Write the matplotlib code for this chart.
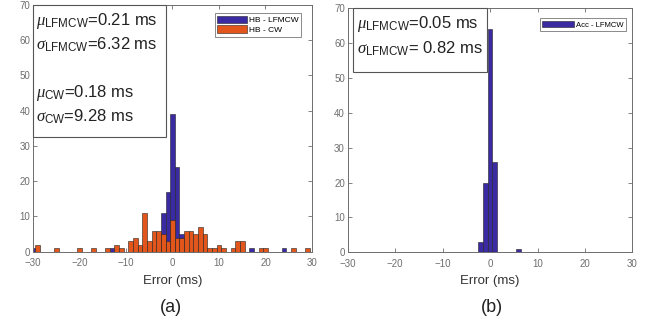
"""
Histogram of timing error: HB vs accelerometer reference, LFMCW / CW.
"""

import numpy as np
import matplotlib
matplotlib.use("Agg")
import matplotlib.pyplot as plt
from matplotlib.patches import Rectangle

plt.rcParams['font.family'] = ['Liberation Sans', 'DejaVu Sans']
plt.rcParams['mathtext.fontset'] = 'custom'
plt.rcParams['mathtext.rm'] = 'Liberation Sans'
plt.rcParams['mathtext.it'] = 'Liberation Serif:italic'

# bin centres (ms) and counts, bins are 1 ms wide
hb_lfmcw_bins = [-30, -13, -2, -1, 0, 1, 2, 17, 24]
hb_lfmcw_counts = [1, 1, 11, 17, 39, 24, 5, 1, 1]

hb_cw_bins = [-29, -25, -20, -17, -14, -12, -11, -9, -8, -7, -6, -5, -4, -3,
              -2, -1, 0, 1, 2, 3, 4, 5, 6, 7, 8, 9, 10, 11, 13, 14, 15,
              19, 20, 26, 29]
hb_cw_counts = [2, 1, 1, 1, 1, 2, 1, 3, 4, 2, 11, 3, 6, 6,
                5, 3, 9, 4, 4, 6, 6, 5, 7, 5, 1, 1, 2, 1, 1, 3, 3,
                1, 1, 1, 1]

acc_lfmcw_bins = [-2, -1, 0, 1, 6]
acc_lfmcw_counts = [3, 20, 64, 26, 1]

x_ticks = [-30, -20, -10, 0, 10, 20, 30]
y_ticks = [0, 10, 20, 30, 40, 50, 60, 70]

blue = '#3A2BA3'
orange = '#E2561C'
grey = '#6E6E6E'


def style_axes(ax):
    ax.set_xlim(-30, 30)
    ax.set_ylim(0, 70)
    ax.set_xticks(x_ticks)
    ax.set_yticks(y_ticks)
    ax.tick_params(direction='in', length=3, width=0.6, top=True, right=True,
                   labelsize=7, colors=grey, pad=2)
    ax.tick_params(axis='x', pad=4.5)
    for s in ax.spines.values():
        s.set_color(grey)
        s.set_linewidth(0.7)
    ax.set_xlabel("Error (ms)", fontsize=9.5, color='#333333', labelpad=5)


def draw_box(ax, x0, y0, x1, y1):
    ax.add_patch(Rectangle((x0, y0), x1 - x0, y1 - y0, transform=ax.transAxes,
                           facecolor='white', edgecolor='#555555', lw=0.8,
                           zorder=5, clip_on=False))


fig = plt.figure(figsize=(6.55, 3.3), dpi=100)

# (a) HB
ax1 = fig.add_axes([0.0504, 0.2373, 0.4259, 0.7485])
ax1.bar(hb_lfmcw_bins, hb_lfmcw_counts, width=1, color=blue,
        edgecolor='#222222', linewidth=0.4, label='HB - LFMCW', zorder=2)
ax1.bar(hb_cw_bins, hb_cw_counts, width=1, color=orange,
        edgecolor='#222222', linewidth=0.4, label='HB - CW', zorder=3)
style_axes(ax1)
leg = ax1.legend(loc='upper right', bbox_to_anchor=(0.96, 0.966), fontsize=6,
                 fancybox=False, framealpha=1, edgecolor='#777777',
                 borderpad=0.3, borderaxespad=0, handlelength=3.6,
                 handleheight=1.0, handletextpad=0.2, labelspacing=0.15)
leg.get_frame().set_linewidth(0.6)

draw_box(ax1, 0.0, 0.464, 0.477, 1.0)
tkw = dict(transform=ax1.transAxes, fontsize=12, color='#222222', zorder=6,
           va='baseline', ha='left')
ax1.text(0.011, 0.918, r'$\mu_{\mathrm{LFMCW}}$=0.21 ms', **tkw)
ax1.text(0.011, 0.817, r'$\sigma_{\mathrm{LFMCW}}$=6.32 ms', **tkw)
ax1.text(0.011, 0.628, r'$\mu_{\mathrm{CW}}$=0.18 ms', **tkw)
ax1.text(0.011, 0.526, r'$\sigma_{\mathrm{CW}}$=9.28 ms', **tkw)

# (b) Acc
ax2 = fig.add_axes([0.5308, 0.2355, 0.4348, 0.7393])
ax2.bar(acc_lfmcw_bins, acc_lfmcw_counts, width=1, color=blue,
        edgecolor='#222222', linewidth=0.4, label='Acc - LFMCW', zorder=2)
style_axes(ax2)
leg2 = ax2.legend(loc='upper right', bbox_to_anchor=(0.977, 0.959), fontsize=5.5,
                  fancybox=False, framealpha=1, edgecolor='#777777',
                  borderpad=0.3, borderaxespad=0, handlelength=4.2,
                  handleheight=1.0, handletextpad=0.2)
leg2.get_frame().set_linewidth(0.6)

draw_box(ax2, 0.02, 0.74, 0.49, 1.0)
tkw['transform'] = ax2.transAxes
ax2.text(0.032, 0.918, r'$\mu_{\mathrm{LFMCW}}$=0.05 ms', **tkw)
ax2.text(0.032, 0.816, r'$\sigma_{\mathrm{LFMCW}}$= 0.82 ms', **tkw)

fig.text(0.2606, 0.067, '(a)', fontsize=13, ha='center', va='center', color='#222222')
fig.text(0.7507, 0.067, '(b)', fontsize=13, ha='center', va='center', color='#222222')

fig.savefig('out.png', dpi=100)
